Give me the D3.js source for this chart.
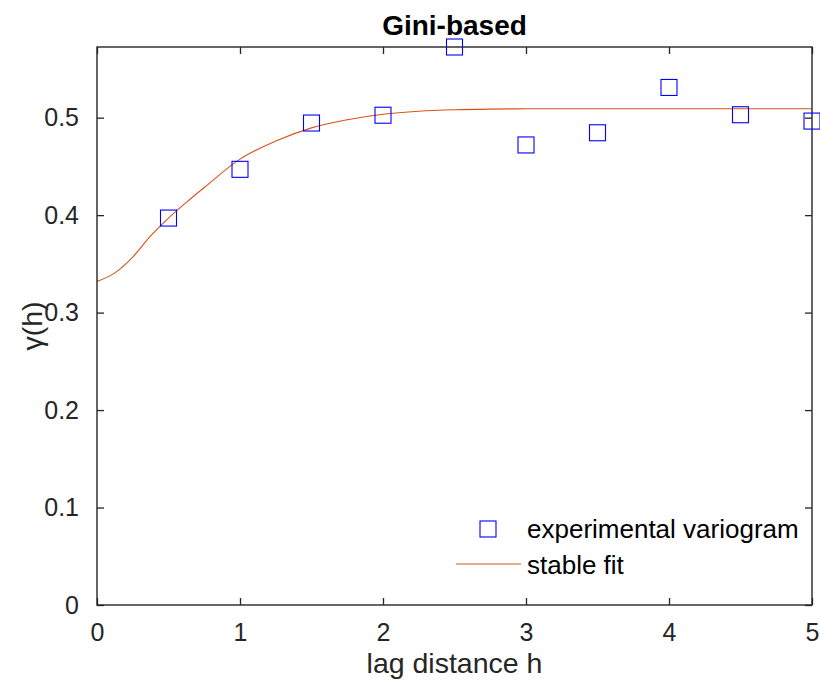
<!DOCTYPE html>
<html>
<head>
<meta charset="utf-8">
<script src="https://cdn.jsdelivr.net/npm/d3@7"></script>
<style>
  html, body { margin: 0; padding: 0; background: #fff; }
  svg { display: block; }
  text { font-family: "Liberation Sans", Arial, Helvetica, sans-serif; }
</style>
</head>
<body>
<svg id="chart" width="820" height="689"></svg>
<script>
// ---- data ----
const lagValues = [0.5, 1.0, 1.5, 2.0, 2.5, 3.0, 3.5, 4.0, 4.5, 5.0];
const gammaValues = [0.397, 0.447, 0.4945, 0.5025, 0.5725, 0.472, 0.4845, 0.531, 0.503, 0.4965];
const fitLags = [0, 0.125, 0.25, 0.375, 0.5, 0.625, 0.75, 1.0, 1.25, 1.5, 1.75, 2.0, 2.25, 2.5, 2.75, 3.0, 3.5, 4.0, 4.5, 5.0];
const fitValues = [0.332, 0.3408, 0.357, 0.3786, 0.397, 0.4131, 0.4283, 0.4575, 0.4760, 0.4895, 0.4978, 0.5035, 0.5066, 0.5081, 0.5088, 0.5091, 0.5092, 0.5092, 0.5092, 0.5092];
const xTicks = [0, 1, 2, 3, 4, 5];
const yTicks = [0, 0.1, 0.2, 0.3, 0.4, 0.5];
const titleText = "Gini-based";
const xLabelText = "lag distance h";
const yLabelText = "γ(h)";
const legendLabels = ["experimental variogram", "stable fit"];

// ---- layout ----
const L = 97, R = 812, T = 47, B = 605;
const axisColor = "#262626";
const markerColor = "#0000ff";
const lineColor = "#d95319";

const svg = d3.select("#chart");
const x = d3.scaleLinear().domain([0, 5]).range([L, R]);
const y = d3.scaleLinear().domain([0, d3.max(gammaValues)]).range([B, T]);

// fit curve
const line = d3.line().x((d, i) => x(fitLags[i])).y(d => y(d)).curve(d3.curveMonotoneX);
svg.append("path").datum(fitValues)
  .attr("d", line).attr("fill", "none")
  .attr("stroke", lineColor).attr("stroke-width", 1.1);

// axes (box with inward ticks)
const tickLen = 7;
const fmtY = d => d === 0 ? "0" : d3.format(".1f")(d);

const gB = svg.append("g").attr("transform", `translate(0,${B})`)
  .call(d3.axisBottom(x).tickValues(xTicks).tickSizeInner(-tickLen).tickSizeOuter(0).tickPadding(18).tickFormat(d3.format("d")));
const gT = svg.append("g").attr("transform", `translate(0,${T})`)
  .call(d3.axisTop(x).tickValues(xTicks).tickSizeInner(-tickLen).tickSizeOuter(0).tickFormat(""));
const gL = svg.append("g").attr("transform", `translate(${L},0)`)
  .call(d3.axisLeft(y).tickValues(yTicks).tickSizeInner(-tickLen).tickSizeOuter(0).tickPadding(18).tickFormat(fmtY));
const gR = svg.append("g").attr("transform", `translate(${R},0)`)
  .call(d3.axisRight(y).tickValues(yTicks).tickSizeInner(-tickLen).tickSizeOuter(0).tickFormat(""));

[gB, gT, gL, gR].forEach(g => {
  g.select(".domain").remove();
  g.selectAll(".tick line").attr("stroke", axisColor).attr("stroke-width", 1.3);
  g.selectAll(".tick text").attr("fill", axisColor)
    .style("font-size", "25px").style("font-family", "'Liberation Sans', Arial, sans-serif");
});
svg.append("rect").attr("x", L).attr("y", T).attr("width", R - L).attr("height", B - T)
  .attr("fill", "none").attr("stroke", axisColor).attr("stroke-width", 1.4);

// experimental variogram markers
svg.append("g").selectAll("rect").data(gammaValues).join("rect")
  .attr("x", (d, i) => x(lagValues[i]) - 8)
  .attr("y", d => y(d) - 8)
  .attr("width", 16).attr("height", 16)
  .attr("fill", "none").attr("stroke", markerColor).attr("stroke-width", 1.1);

// title
svg.append("text").attr("x", (L + R) / 2).attr("y", 35)
  .attr("text-anchor", "middle").attr("font-weight", "bold")
  .style("font-size", "28px").attr("fill", "#000").text(titleText);

// x label
svg.append("text").attr("x", (L + R) / 2).attr("y", 673)
  .attr("text-anchor", "middle").style("font-size", "28.5px")
  .attr("fill", axisColor).text(xLabelText);

// y label
svg.append("text").attr("transform", `translate(42,${(T + B) / 2}) rotate(-90)`)
  .attr("text-anchor", "middle").style("font-size", "28.5px")
  .attr("fill", axisColor).text(yLabelText);

// legend
const lg = svg.append("g");
lg.append("rect").attr("x", 488 - 8).attr("y", 529 - 8).attr("width", 16).attr("height", 16)
  .attr("fill", "none").attr("stroke", markerColor).attr("stroke-width", 1.1);
lg.append("line").attr("x1", 456).attr("x2", 521).attr("y1", 564).attr("y2", 564)
  .attr("stroke", lineColor).attr("stroke-width", 1.1);
lg.append("text").attr("x", 527).attr("y", 538).style("font-size", "26px")
  .attr("fill", "#000").text(legendLabels[0]);
lg.append("text").attr("x", 527).attr("y", 574).style("font-size", "26px")
  .attr("fill", "#000").text(legendLabels[1]);
</script>
</body>
</html>
